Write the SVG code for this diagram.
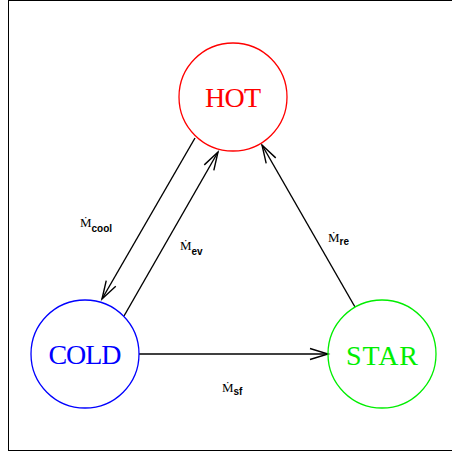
<svg xmlns="http://www.w3.org/2000/svg" width="452" height="452" viewBox="0 0 452 452">
  <style>
    .frame { fill: none; stroke: #000; stroke-width: 1; }
    .node { fill: none; stroke-width: 1.3; }
    .ntext { font-family: "Liberation Serif", "DejaVu Serif", serif; font-size: 28px; text-anchor: middle; }
    .edge { stroke: #000; stroke-width: 1.4; fill: none; marker-end: url(#vhead); }
    .m { font-family: "Liberation Serif", "DejaVu Serif", serif; font-size: 13px; fill: #000; }
    .sub { font-family: "Liberation Sans", "DejaVu Sans", sans-serif; font-size: 10px; font-weight: bold; fill: #000; }
  </style>
  <defs>
    <marker id="vhead" markerUnits="userSpaceOnUse" markerWidth="24" markerHeight="14" viewBox="-20 -7 24 14" refX="0" refY="0" orient="auto">
      <path d="M-18,-5.5 L0,0 L-18,5.5" fill="none" stroke="#000" stroke-width="1.4"/>
    </marker>
  </defs>

  <rect class="frame" x="8.5" y="0.5" width="460" height="450"/>

  <g id="connectors">
    <line class="edge" x1="195" y1="138" x2="102" y2="299"/>
    <line class="edge" x1="124" y1="316" x2="218" y2="152"/>
    <line class="edge" x1="355" y1="307" x2="262" y2="145"/>
    <line class="edge" x1="139" y1="354" x2="328" y2="354"/>
  </g>

  <g id="hot">
    <circle class="node" cx="233" cy="97" r="54" stroke="#ff0000"/>
    <text class="ntext" x="233" y="107" fill="#ff0000" textLength="56">HOT</text>
  </g>
  <g id="cold">
    <circle class="node" cx="85" cy="354" r="54" stroke="#0000ff"/>
    <text class="ntext" x="85" y="364" fill="#0000ff" textLength="73">COLD</text>
  </g>
  <g id="star">
    <circle class="node" cx="382" cy="354" r="54" stroke="#00ee00"/>
    <text class="ntext" x="382" y="365" fill="#00ee00" textLength="72">STAR</text>
  </g>

  <g id="labels">
    <text x="80" y="227"><tspan class="m">Ṁ</tspan><tspan class="sub" dy="5">cool</tspan></text>
    <text x="180" y="250"><tspan class="m">Ṁ</tspan><tspan class="sub" dy="5">ev</tspan></text>
    <text x="328" y="242"><tspan class="m">Ṁ</tspan><tspan class="sub" dy="3">re</tspan></text>
    <text x="222" y="392"><tspan class="m">Ṁ</tspan><tspan class="sub" dy="3">sf</tspan></text>
  </g>
</svg>
